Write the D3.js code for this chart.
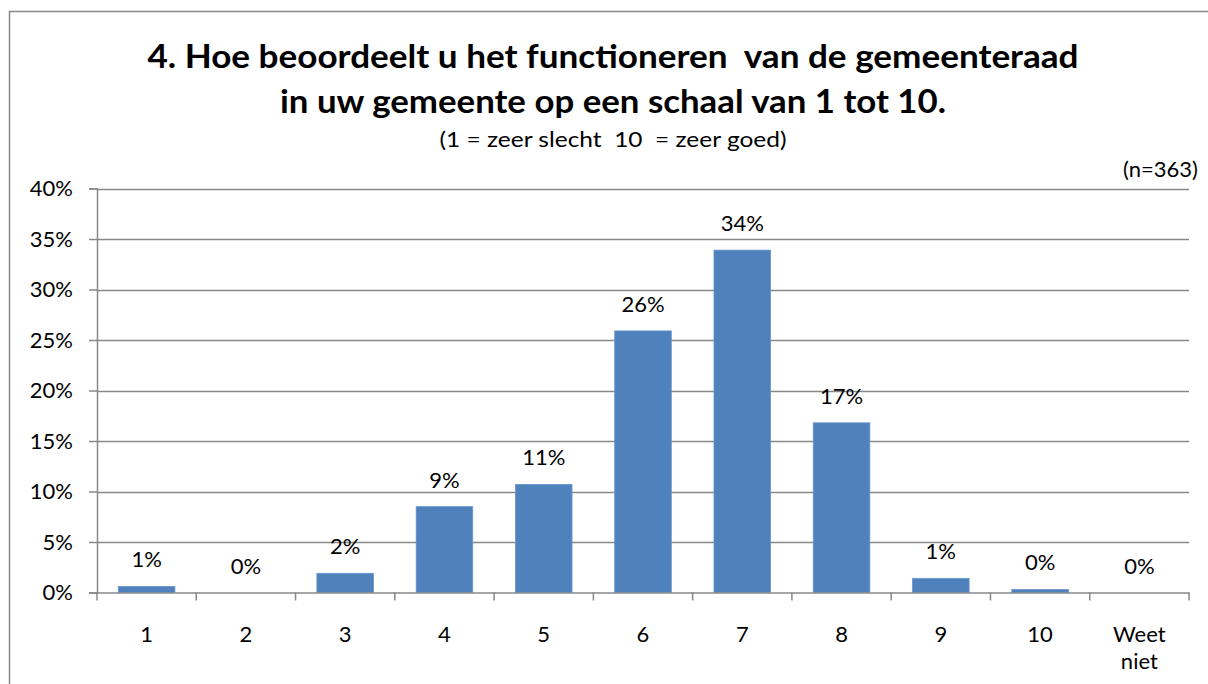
<!DOCTYPE html>
<html>
<head>
<meta charset="utf-8">
<script src="https://cdn.jsdelivr.net/npm/d3@7"></script>
<style>
  body { margin: 0; background: #fff; }
  svg { font-family: Lato, "Open Sans", sans-serif; }
</style>
</head>
<body>
<svg width="1208" height="684"></svg>
<script>
// chart data
const categories = ["1", "2", "3", "4", "5", "6", "7", "8", "9", "10", "Weet niet"];
const values = [0.6, 0, 1.9, 8.5, 10.7, 25.9, 33.9, 16.8, 1.4, 0.3, 0];
const labels = ["1%", "0%", "2%", "9%", "11%", "26%", "34%", "17%", "1%", "0%", "0%"];
const yTicks = [0, 5, 10, 15, 20, 25, 30, 35, 40];

const svg = d3.select("svg");

// outer frame
svg.append("rect")
    .attr("x", 9.5).attr("y", 11.5)
    .attr("width", 1230).attr("height", 700)
    .attr("fill", "none")
    .attr("stroke", "#888").attr("stroke-width", 1.5);

// titles
svg.append("text")
    .attr("x", 613).attr("y", 68)
    .attr("text-anchor", "middle")
    .attr("font-weight", "bold").attr("font-size", 33)
    .attr("xml:space", "preserve")
    .attr("textLength", 931).attr("lengthAdjust", "spacingAndGlyphs")
    .text("4. Hoe beoordeelt u het functioneren  van de gemeenteraad");
svg.append("text")
    .attr("x", 613).attr("y", 113)
    .attr("text-anchor", "middle")
    .attr("font-weight", "bold").attr("font-size", 33)
    .attr("textLength", 666).attr("lengthAdjust", "spacingAndGlyphs")
    .text("in uw gemeente op een schaal van 1 tot 10.");
svg.append("text")
    .attr("x", 613).attr("y", 147)
    .attr("text-anchor", "middle")
    .attr("font-size", 22)
    .attr("xml:space", "preserve")
    .attr("textLength", 347).attr("lengthAdjust", "spacingAndGlyphs")
    .text("(1 = zeer slecht  10  = zeer goed)");
svg.append("text")
    .attr("x", 1198).attr("y", 177)
    .attr("text-anchor", "end")
    .attr("font-size", 22)
    .text("(n=363)");

// scales
const xScale = d3.scaleBand()
    .domain(categories)
    .range([97, 1189])
    .paddingInner(0.43)
    .paddingOuter(0.215);

const xAxisScale = d3.scaleBand().domain(categories).range([97, 1189]);

const yScale = d3.scaleLinear()
    .domain([0, 40])
    .range([592.5, 188.5]);

// gridlines
svg.append("g")
    .selectAll("line")
    .data(yTicks.slice(1))
    .enter()
    .append("line")
    .attr("x1", 97).attr("x2", 1189)
    .attr("y1", d => Math.round(yScale(d)) + 0.5)
    .attr("y2", d => Math.round(yScale(d)) + 0.5)
    .attr("stroke", "#888").attr("stroke-width", 1.5);

// y axis
const yAxis = svg.append("g")
    .attr("transform", "translate(97,0)")
    .call(d3.axisLeft(yScale)
        .tickValues(yTicks)
        .tickSize(8)
        .tickPadding(16)
        .tickFormat(d => d + "%"));
yAxis.selectAll("text").attr("font-size", 22).attr("fill", "#000")
    .attr("font-family", "Lato, sans-serif");
yAxis.selectAll("line, path").attr("stroke", "#888").attr("stroke-width", 1.5);

// bars
svg.selectAll("rect.bar")
    .data(values)
    .enter()
    .append("rect")
    .attr("class", "bar")
    .attr("x", (d, i) => xScale(categories[i]))
    .attr("y", d => yScale(d))
    .attr("width", xScale.bandwidth())
    .attr("height", d => yScale(0) - yScale(d))
    .attr("fill", "#4F81BD")
    .attr("stroke", "#6a95cc").attr("stroke-width", 0.8);

// value labels
svg.selectAll("text.val")
    .data(values)
    .enter()
    .append("text")
    .attr("class", "val")
    .attr("x", (d, i) => xScale(categories[i]) + xScale.bandwidth() / 2)
    .attr("y", d => yScale(d) - 19)
    .attr("text-anchor", "middle")
    .attr("font-size", 22)
    .text((d, i) => labels[i]);

// x axis
const xAxis = svg.append("g")
    .attr("transform", "translate(0," + yScale(0) + ")")
    .call(d3.axisBottom(xAxisScale).tickSize(0).tickFormat(""));
xAxis.select("path").attr("stroke", "#888").attr("stroke-width", 1.5);

// category ticks between bands
xAxis.selectAll("line.sep")
    .data(categories.concat(["end"]))
    .enter()
    .append("line")
    .attr("class", "sep")
    .attr("x1", (d, i) => i < categories.length ? xAxisScale(d) : xAxisScale.range()[1])
    .attr("x2", (d, i) => i < categories.length ? xAxisScale(d) : xAxisScale.range()[1])
    .attr("y1", 0).attr("y2", 8)
    .attr("stroke", "#888").attr("stroke-width", 1.5);

// category labels
const catText = svg.append("g")
    .selectAll("text")
    .data(categories)
    .enter()
    .append("text")
    .attr("x", d => xAxisScale(d) + xAxisScale.bandwidth() / 2)
    .attr("y", 642)
    .attr("text-anchor", "middle")
    .attr("font-size", 22);
catText.each(function (d) {
    const parts = d.split(" ");
    const t = d3.select(this);
    parts.forEach((p, j) => {
        t.append("tspan")
            .attr("x", xAxisScale(d) + xAxisScale.bandwidth() / 2)
            .attr("dy", j === 0 ? 0 : 27)
            .text(p);
    });
});
</script>
</body>
</html>
